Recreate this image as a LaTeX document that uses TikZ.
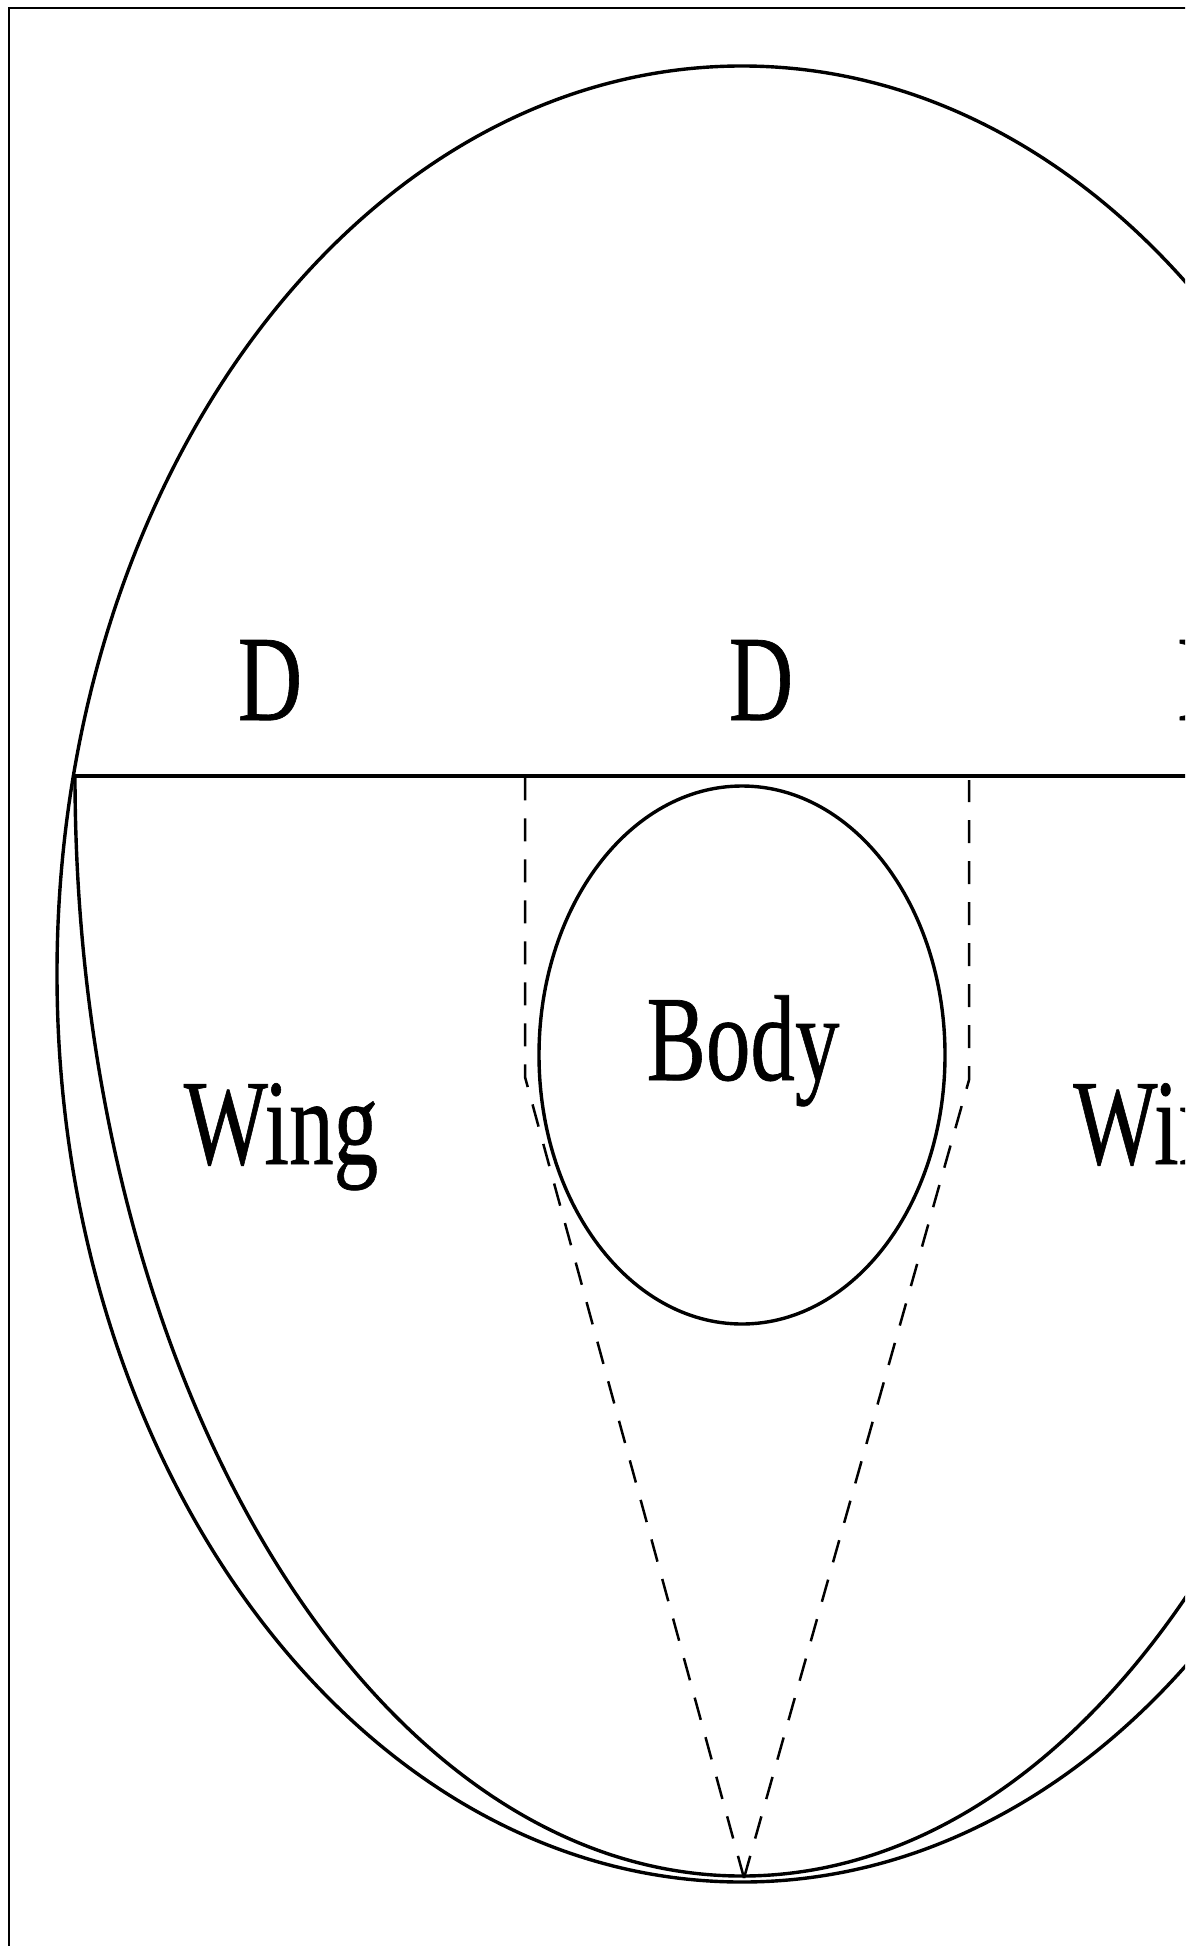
\documentclass[tikz,border=0pt]{standalone}
\usepackage{fontspec}
\usepackage{graphicx}
\setmainfont{Liberation Serif}[FakeBold=0.6]
\newcommand{\bigtxt}[1]{\fontsize{61pt}{61pt}\selectfont\scalebox{0.73}[1]{#1}}
\begin{document}
\begin{tikzpicture}[x=0.5pt,y=-0.5pt,
  solidline/.style={line width=1.7pt},
  frameline/.style={line width=1pt},
  dashline/.style={line width=1.25pt, dash pattern=on 11.5pt off 9pt},
  lbl/.style={inner sep=0pt, anchor=base}]
\useasboundingbox (0,0) rectangle (1185,1946);
\clip (0,0) rectangle (1185,1946);
% frame
\coordinate (fTL) at (9,8);
\coordinate (fTR) at (1190,8);
\coordinate (fBL) at (9,1950);
\draw[frameline] (fTR) -- (fTL) -- (fBL);
% outer ellipse
\coordinate (oc) at (742,974);
\draw[solidline] (oc) ellipse [x radius=685, y radius=908];
% horizontal line
\coordinate (hl) at (75,776);
\coordinate (hr) at (1190,776);
\draw[solidline, line width=1.8pt] (hl) -- (hr);
% inner wing curve (lower half ellipse)
\coordinate (ic) at (742,776);
\draw[solidline] (hl) arc [start angle=180, end angle=0, x radius=667, y radius=1100];
% body ellipse
\coordinate (bc) at (742,1055);
\draw[solidline] (bc) ellipse [x radius=203, y radius=269];
% dashed lines
\coordinate (apex) at (744,1878);
\coordinate (lk) at (525,1077);
\coordinate (lt) at (525,776);
\coordinate (rk) at (969,1080);
\coordinate (rt) at (969,780);
\draw[dashline] (apex) -- (lk) -- (lt);
\draw[dashline] (apex) -- (rk) -- (rt);
% labels
\node[lbl] (d1) at (270,720) {\bigtxt{D}};
\node[lbl] (d2) at (761,720) {\bigtxt{D}};
\node[lbl, anchor=base west] (d3) at (1177,720) {\bigtxt{D}};
\node[lbl] (body) at (743,1080) {\bigtxt{Body}};
\node[lbl] (w1) at (281,1164) {\bigtxt{Wing}};
\node[lbl, anchor=base west] (w2) at (1073,1164) {\bigtxt{Wing}};
\end{tikzpicture}
\end{document}
